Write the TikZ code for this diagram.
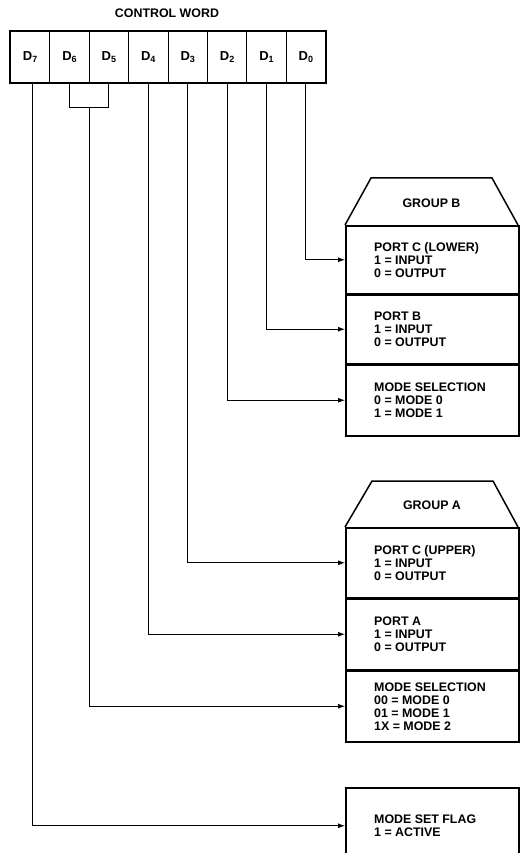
\documentclass[tikz,border=0pt]{standalone}
\usepackage{fontspec}
\setmainfont{Liberation Sans}
\usetikzlibrary{arrows.meta,calc}
\newcommand{\Dsub}[1]{D\raisebox{-2.6pt}{\fontsize{9}{9}\selectfont #1}}
\begin{document}
\begin{tikzpicture}[x=1pt,y=-1pt,
  lbl/.style={font=\bfseries\fontsize{12.4}{13}\selectfont},
  cell/.style={draw,line width=0.8pt,minimum width=39.4pt,minimum height=51pt,inner sep=0pt,anchor=north west,font=\bfseries\fontsize{13}{14}\selectfont},
  sect/.style={draw,line width=1.5pt,minimum width=173pt,inner sep=0pt,anchor=north west},
  txt/.style={anchor=west,inner sep=0pt,align=left,font=\bfseries\fontsize{12.4}{13}\selectfont},
  trap/.style={line width=1.5pt},
  conn/.style={line width=0.9pt},
  arr/.style={line width=0.9pt,-{Latex[length=7pt,width=5pt]}}]
\useasboundingbox (0,0) rectangle (523,853);
\clip (0,0) rectangle (523,853);

\node[lbl] (title) at (167,13) {CONTROL WORD};

% control word cells
\node[cell] (d7) at (10,31) {\Dsub{7}};
\node[cell] (d6) at (49.4,31) {\Dsub{6}};
\node[cell] (d5) at (88.8,31) {\Dsub{5}};
\node[cell] (d4) at (128.2,31) {\Dsub{4}};
\node[cell] (d3) at (167.6,31) {\Dsub{3}};
\node[cell] (d2) at (207,31) {\Dsub{2}};
\node[cell] (d1) at (246.4,31) {\Dsub{1}};
\node[cell] (d0) at (285.8,31) {\Dsub{0}};
\draw[line width=1.6pt] (d7.north west) rectangle (d0.south east);

% Group B
\draw[trap] (345,225) -- (371,178) -- (492,178) -- (518,225);
\node[lbl] (gb) at (431.5,203) {GROUP B};
\node[sect,minimum height=68pt] (pcl) at (345,225) {};
\node[sect,minimum height=68pt] (pb) at (pcl.south west) {};
\node[sect,minimum height=71pt] (msb) at (pb.south west) {};
\node[txt] (tpcl) at ([xshift=29pt]pcl.west) {PORT C (LOWER)\\1 = INPUT\\0 = OUTPUT};
\node[txt] (tpb) at ([xshift=29pt]pb.west) {PORT B\\1 = INPUT\\0 = OUTPUT};
\node[txt] (tmsb) at ([xshift=29pt]msb.west) {MODE SELECTION\\0 = MODE 0\\1 = MODE 1};

% Group A
\draw[trap] (345,527) -- (372,481) -- (493,481) -- (518,527);
\node[lbl] (ga) at (432,505) {GROUP A};
\node[sect,minimum height=70pt] (pcu) at (345,527) {};
\node[sect,minimum height=70pt] (pa) at (pcu.south west) {};
\node[sect,minimum height=71pt] (msa) at (pa.south west) {};
\node[txt] (tpcu) at ([xshift=29pt]pcu.west) {PORT C (UPPER)\\1 = INPUT\\0 = OUTPUT};
\node[txt] (tpa) at ([xshift=29pt]pa.west) {PORT A\\1 = INPUT\\0 = OUTPUT};
\node[txt] (tmsa) at ([xshift=29pt]msa.west) {MODE SELECTION\\00 = MODE 0\\01 = MODE 1\\1X = MODE 2};

% Mode set flag
\node[sect,minimum height=76pt] (msf) at (345,787) {};
\node[txt] (tmsf) at ([xshift=29pt]msf.west) {MODE SET FLAG\\1 = ACTIVE};

% bracket for D6/D5
\coordinate (bl) at (d6.south |- 0,107);
\coordinate (br) at (d5.south |- 0,107);
\coordinate (bm) at ($(bl)!0.5!(br)$);
\draw[conn] (d6.south) -- (bl) -- (br) -- (d5.south);

% connectors
\draw[arr] (d0.south) |- (pcl.west);
\draw[arr] (d1.south) |- (pb.west);
\draw[arr] (d2.south) |- (msb.west);
\draw[arr] (d3.south) |- (pcu.west);
\draw[arr] (d4.south) |- (pa.west);
\draw[arr] (bm) |- (msa.west);
\draw[arr] ([xshift=2pt]d7.south) |- (msf.west);
\end{tikzpicture}
\end{document}
